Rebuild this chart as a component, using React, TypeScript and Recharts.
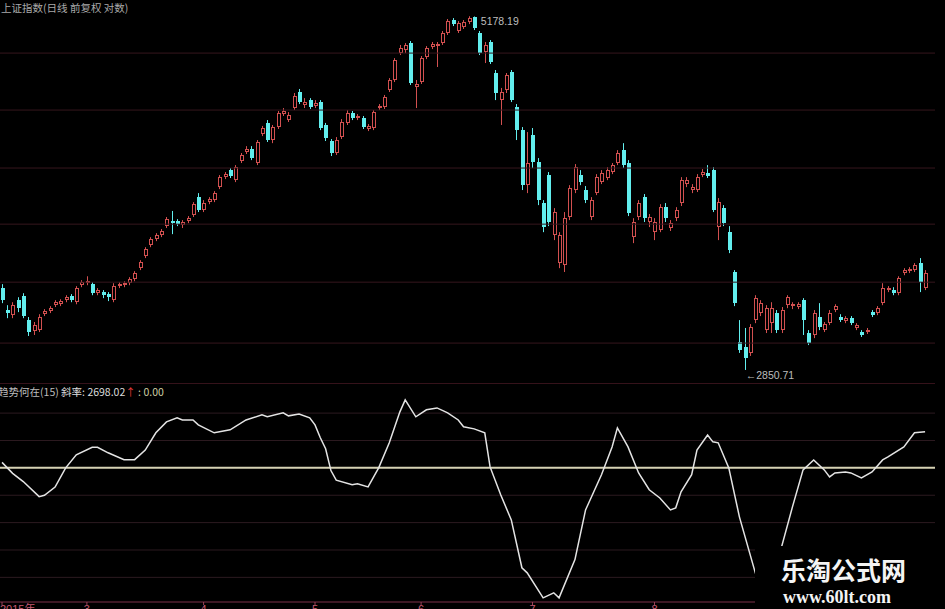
import {
  ComposedChart,
  Bar,
  Line,
  XAxis,
  YAxis,
  ReferenceLine,
  ReferenceDot,
} from "recharts";

// daily candles (log price axis)
const candleOpen = [
  3273, 3154, 3127, 3207, 3229, 3101, 3044, 3049, 3132, 3149, 3180, 3185, 3207, 3229, 3196, 3289, 3300, 3295, 3245, 3251,
  3240, 3207, 3284, 3289, 3300, 3323, 3385, 3454, 3519, 3555, 3579, 3634, 3665, 3665, 3640, 3665, 3702, 3816, 3734, 3784,
  3797, 3881, 3947, 3994, 3927, 4055, 4118, 4138, 4042, 4244, 4325, 4202, 4295, 4390, 4346, 4435, 4557, 4458, 4495, 4450,
  4480, 4310, 4195, 4111, 4223, 4325, 4398, 4361, 4361, 4281, 4288, 4435, 4443, 4572, 4650, 4866, 4891, 4949, 4595, 4634,
  4834, 4916, 4924, 4949, 5034, 5145, 5051, 5085, 5128, 5171, 5034, 4875, 4958, 4705, 4495, 4572, 4713, 4443, 4273, 3894,
  4237, 4049, 3778, 3961, 3579, 3414, 3402, 3690, 3862, 3961, 3862, 3690, 3842, 3914, 3941, 3981, 4042, 4131, 4042, 3567,
  3690, 3816, 3659, 3597, 3610, 3752, 3622, 3683, 3778, 3901, 3862, 3862, 3961, 3974, 3994, 3628, 3746, 3597, 3363, 2988,
  2963, 2934, 3101, 3138, 3049, 3085, 3138, 3049, 3180, 3175, 3170, 3207, 3034, 3024, 3117, 3049, 3085, 3154, 3117, 3096,
  3111, 3060, 3039, 3039, 3143, 3138, 3191, 3262, 3262, 3245, 3357, 3368, 3374, 3414, 3273,
];
const candleHigh = [
  3295, 3180, 3196, 3223, 3245, 3117, 3091, 3132, 3159, 3175, 3207, 3212, 3234, 3240, 3284, 3317, 3339, 3306, 3273, 3262,
  3251, 3300, 3306, 3311, 3334, 3368, 3431, 3507, 3567, 3591, 3616, 3690, 3728, 3677, 3671, 3696, 3784, 3842, 3797, 3816,
  3855, 3961, 3981, 4008, 4028, 4111, 4159, 4159, 4202, 4303, 4346, 4310, 4413, 4435, 4405, 4549, 4580, 4510, 4510, 4495,
  4495, 4325, 4209, 4223, 4353, 4420, 4413, 4390, 4376, 4317, 4420, 4465, 4534, 4665, 4825, 4933, 4949, 4966, 4650, 4842,
  4924, 4958, 4958, 5051, 5154, 5162, 5136, 5145, 5178.19, 5176, 5051, 4958, 4974, 4729, 4588, 4705, 4729, 4465, 4295, 4259,
  4288, 4076, 3797, 3981, 3746, 3597, 3721, 3894, 4035, 3994, 3888, 3816, 3967, 3994, 4014, 4042, 4131, 4180, 4062, 3683,
  3797, 3836, 3709, 3683, 3771, 3778, 3671, 3752, 3947, 3947, 3901, 3967, 4001, 4028, 4014, 3810, 3765, 3634, 3374, 3101,
  3060, 3080, 3234, 3207, 3180, 3196, 3154, 3170, 3234, 3196, 3196, 3218, 3049, 3154, 3191, 3091, 3154, 3185, 3132, 3122,
  3122, 3085, 3049, 3060, 3154, 3175, 3300, 3284, 3278, 3339, 3385, 3391, 3414, 3443, 3374,
];
const candleLow = [
  3191, 3111, 3111, 3143, 3111, 3019, 3024, 3039, 3122, 3138, 3170, 3175, 3196, 3196, 3185, 3278, 3289, 3234, 3234, 3218,
  3202, 3196, 3273, 3278, 3289, 3311, 3374, 3443, 3507, 3543, 3567, 3622, 3585, 3634, 3622, 3652, 3690, 3721, 3721, 3771,
  3784, 3868, 3934, 3941, 3914, 4042, 4104, 4062, 4028, 4230, 4188, 4180, 4281, 4376, 4332, 4420, 4465, 4435, 4428, 4435,
  4273, 4195, 4090, 4097, 4209, 4310, 4346, 4346, 4281, 4266, 4273, 4420, 4428, 4557, 4634, 4850, 4866, 4611, 4435, 4619,
  4817, 4899, 4753, 4933, 5017, 5093, 5034, 5068, 5110, 5059, 4850, 4785, 4777, 4495, 4310, 4549, 4480, 4202, 3862, 3842,
  4008, 3765, 3597, 3634, 3549, 3385, 3363, 3671, 3842, 3894, 3778, 3671, 3829, 3901, 3927, 3967, 4028, 4008, 3696, 3531,
  3671, 3659, 3628, 3549, 3597, 3659, 3604, 3665, 3759, 3881, 3842, 3849, 3947, 3941, 3721, 3549, 3634, 3472, 3175, 2934,
  2850.71, 2919, 3085, 3122, 3034, 3034, 3034, 3034, 3164, 3159, 3159, 3024, 2973, 3008, 3049, 3039, 3075, 3143, 3091, 3085,
  3075, 3049, 3014, 3029, 3117, 3127, 3180, 3251, 3234, 3234, 3345, 3357, 3363, 3251, 3262,
];
const candleClose = [
  3207, 3138, 3180, 3164, 3122, 3039, 3075, 3117, 3149, 3164, 3196, 3202, 3223, 3207, 3273, 3306, 3311, 3245, 3262, 3234,
  3223, 3284, 3295, 3300, 3323, 3357, 3420, 3496, 3555, 3579, 3604, 3677, 3652, 3646, 3659, 3683, 3771, 3734, 3778, 3803,
  3842, 3947, 3967, 3954, 4014, 4097, 4138, 4076, 4188, 4288, 4202, 4295, 4398, 4413, 4383, 4526, 4480, 4480, 4443, 4473,
  4288, 4216, 4111, 4202, 4332, 4398, 4361, 4376, 4295, 4303, 4405, 4450, 4518, 4650, 4809, 4908, 4933, 4627, 4619, 4825,
  4908, 4941, 4941, 5034, 5136, 5110, 5119, 5128, 5162, 5076, 4866, 4933, 4793, 4549, 4557, 4689, 4495, 4273, 3894, 4042,
  4049, 3797, 3628, 3659, 3721, 3579, 3683, 3875, 4014, 3914, 3797, 3797, 3947, 3974, 3994, 4028, 4111, 4028, 3715, 3659,
  3778, 3683, 3690, 3659, 3752, 3683, 3652, 3734, 3927, 3927, 3881, 3947, 3981, 3954, 3734, 3784, 3652, 3490, 3191, 2948,
  2909, 3065, 3218, 3191, 3164, 3164, 3049, 3154, 3223, 3185, 3185, 3101, 2983, 3138, 3065, 3080, 3138, 3175, 3101, 3111,
  3085, 3075, 3024, 3049, 3127, 3164, 3273, 3273, 3245, 3328, 3374, 3380, 3402, 3306, 3357,
];

// trend indicator (15)
const indIdx = [
  0, 2, 4, 7, 8, 10, 12, 14, 17, 18, 20, 23, 25, 27, 29, 31, 33, 34, 36, 37, 40, 43, 46, 49, 50, 53, 54, 56, 58, 59,
  60, 61, 62, 63, 66, 67, 69, 71, 73, 75, 76, 78, 80, 82, 84, 86, 87, 89, 91, 92, 94, 96, 98, 99, 102, 104, 105, 108,
  110, 113, 115, 116, 118, 120, 122, 124, 126, 127, 128, 130, 131, 133, 134, 135, 137, 139, 142, 143, 144, 145, 146,
  147, 149, 151, 153, 155, 156, 157, 159, 160, 162, 164, 166, 167, 170, 172, 174,
];
const indVal = [
  4, -4, -10, -21, -20, -14, 0, 9.5, 15, 15, 11, 6, 6, 13, 25.6, 33.6, 36.5, 35, 35, 31.4, 25.6, 27.8, 35, 38.7, 37.3,
  40.2, 38, 39.4, 36.5, 31.4, 22, 14, -2, -9, -12.4, -11.7, -13.9, 0, 18.3, 40.9, 49.7, 37.3, 42.4, 43.8, 40.2, 35, 30,
  28.5, 25.6, 0.7, -19.7, -38, -73, -76.7, -95, -91.3, -95, -67, -30.7, -5, 15.3, 29.2, 15.3, -3.7, -16, -22, -30.7,
  -29.2, -17.5, -5, 13, 24, 19, 18.3, 0, -35.8, -76.7, -88, -95, -86, -72, -57, -28.5, -1.5, 5.8, -1.5, -6.6, -3.7, -3,
  -3.7, -7.3, -3, 5.8, 8, 15.3, 25.6, 26.3,
];

// month marks on the time axis (later months sit under the watermark)
const monthTickIdx = [0, 16, 38, 59, 79, 100, 123];
const monthTickLabel = ["2015年", "3", "4", "5", "6", "7", "8"];

const priceGrid = [4866, 4420, 4008, 3646, 3306, 2983];
const indGrid = [40, 20, -20, -40, -60, -80];

const UP = "#d25050";
const DOWN = "#62eeee";
const X_DOMAIN: [number, number] = [-0.38, 175.87];

const candles = candleOpen.map((open, i) => ({
  i,
  open,
  high: candleHigh[i],
  low: candleLow[i],
  close: candleClose[i],
}));
const indData = indIdx.map((i, k) => ({ i, v: indVal[k] }));

const peakIdx = candleHigh.indexOf(Math.max(...candleHigh));
const lowIdx = candleLow.indexOf(Math.min(...candleLow));

const Candle = (props: any) => {
  const { x, y, width, height, payload } = props;
  if (!payload || height == null || isNaN(y)) return null;
  const { open, close, high, low } = payload;
  const cx = Math.floor(x + width / 2) + 0.5;
  const span = Math.log(high) - Math.log(low) || 1;
  // log axis: position is linear in log(price) between high and low
  const py = (v: number) => y + (height * (Math.log(high) - Math.log(v))) / span;
  const top = Math.round(py(Math.max(open, close)));
  const bot = Math.round(py(Math.min(open, close)));
  const up = close >= open;
  const color = up ? UP : DOWN;
  const h = Math.max(bot - top, 1);
  return (
    <g>
      <line x1={cx} x2={cx} y1={y} y2={y + height} stroke={color} strokeWidth={1} />
      {up ? (
        <rect x={cx - 1} y={top + 0.5} width={3} height={Math.max(h - 1, 0.5)} fill="#000" stroke={color} strokeWidth={1} />
      ) : (
        <rect x={cx - 1.5} y={top} width={4} height={h} fill={color} />
      )}
    </g>
  );
};

const MonthTick = (props: any) => {
  const { x, y, payload } = props;
  const k = monthTickIdx.indexOf(payload.value);
  return (
    <text
      x={k === 0 ? 0 : x}
      y={y + 8}
      textAnchor={k === 0 ? "start" : "middle"}
      fill="#c65a72"
      fontSize={11}
      fontFamily="'Liberation Sans', 'Noto Sans CJK SC', sans-serif"
    >
      {monthTickLabel[k] ?? ""}
    </text>
  );
};

const labelFont = "'Liberation Sans', 'Noto Sans CJK SC', sans-serif";

const App = () => {
  return (
    <div
      style={{
        position: "absolute",
        left: 0,
        top: 0,
        width: 945,
        height: 609,
        background: "#000",
        overflow: "hidden",
        fontFamily: labelFont,
      }}
    >
      <div style={{ position: "absolute", left: 0, top: 0 }}>
        <ComposedChart width={945} height={384} data={candles} margin={{ top: 0, right: 10, bottom: 0, left: 0 }}>
          <XAxis dataKey="i" type="number" domain={X_DOMAIN} hide allowDataOverflow />
          <YAxis scale="log" type="number" domain={[2784, 5322]} hide allowDataOverflow />
          {priceGrid.map((p) => (
            <ReferenceLine key={p} y={p} stroke="#36161d" strokeWidth={1} />
          ))}
          <Bar
            dataKey={(d: any) => [d.low, d.high]}
            shape={<Candle />}
            barSize={4}
            isAnimationActive={false}
          />
          <ReferenceDot
            x={peakIdx}
            y={candleHigh[peakIdx]}
            r={0}
            stroke="none"
            label={(p: any) => (
              <text x={p.viewBox.x + 12} y={p.viewBox.y + 9} fill="#bdbdbd" fontSize={10.5} fontFamily={labelFont}>
                {candleHigh[peakIdx].toFixed(2)}
              </text>
            )}
          />
          <ReferenceDot
            x={lowIdx}
            y={candleLow[lowIdx]}
            r={0}
            stroke="none"
            label={(p: any) => (
              <text x={p.viewBox.x + 1} y={p.viewBox.y + 9} fill="#bdbdbd" fontSize={10.5} fontFamily={labelFont}>
                {"←" + candleLow[lowIdx].toFixed(2)}
              </text>
            )}
          />
        </ComposedChart>
      </div>

      <div style={{ position: "absolute", left: 0, top: 383 }}>
        <ComposedChart width={945} height={226} data={indData} margin={{ top: 0, right: 10, bottom: 0, left: 0 }}>
          <XAxis
            dataKey="i"
            type="number"
            domain={X_DOMAIN}
            allowDataOverflow
            ticks={monthTickIdx}
            interval={0}
            height={7}
            tickSize={3}
            tickMargin={0}
            axisLine={{ stroke: "#7a3048" }}
            tickLine={{ stroke: "#9a4058" }}
            tick={<MonthTick />}
          />
          <YAxis type="number" domain={[-98, 62]} hide allowDataOverflow />
          <ReferenceLine y={62} stroke="#6a2434" strokeWidth={1} />
          {indGrid.map((g) => (
            <ReferenceLine key={g} y={g} stroke="#2c1a20" strokeWidth={1} />
          ))}
          <ReferenceLine y={0} stroke="#d6d2b4" strokeWidth={2} />
          <Line
            dataKey="v"
            type="linear"
            stroke="#e4e4e4"
            strokeWidth={1.5}
            dot={false}
            isAnimationActive={false}
          />
        </ComposedChart>
      </div>

      <div
        style={{
          position: "absolute",
          left: 1,
          top: 1,
          fontSize: 10.5,
          lineHeight: "13px",
          color: "#a9a9a9",
          fontFamily: "'Noto Sans CJK SC', sans-serif",
          whiteSpace: "nowrap",
        }}
      >
        上证指数(日线 前复权 对数)
      </div>

      <div
        style={{
          position: "absolute",
          left: -2,
          top: 385,
          fontSize: 10.5,
          lineHeight: "13px",
          fontFamily: "'Noto Sans CJK SC', sans-serif",
          whiteSpace: "nowrap",
        }}
      >
        <span style={{ color: "#bcbcbc" }}>趋势何在(15) </span>
        <span style={{ color: "#dcdcdc" }}>斜率: 2698.02</span>
        <span style={{ color: "#e03a3a" }}>↑</span>
        <span style={{ color: "#cfcfa4" }}> : 0.00</span>
      </div>

      <div
        style={{
          position: "absolute",
          left: 755,
          top: 546,
          width: 190,
          height: 63,
          background: "#000",
        }}
      >
        <div
          style={{
            position: "absolute",
            left: 26,
            top: 10,
            fontSize: 25,
            lineHeight: "26px",
            fontWeight: 700,
            color: "#f4f4f4",
            fontFamily: "'Noto Sans CJK SC', sans-serif",
            whiteSpace: "nowrap",
          }}
        >
          乐淘公式网
        </div>
        <div
          style={{
            position: "absolute",
            left: 28,
            top: 41,
            fontSize: 18,
            lineHeight: "20px",
            fontWeight: 700,
            color: "#f4f4f4",
            fontFamily: "'Liberation Serif', 'DejaVu Serif', serif",
            whiteSpace: "nowrap",
          }}
        >
          www.60lt.com
        </div>
      </div>
    </div>
  );
};

export default App;
